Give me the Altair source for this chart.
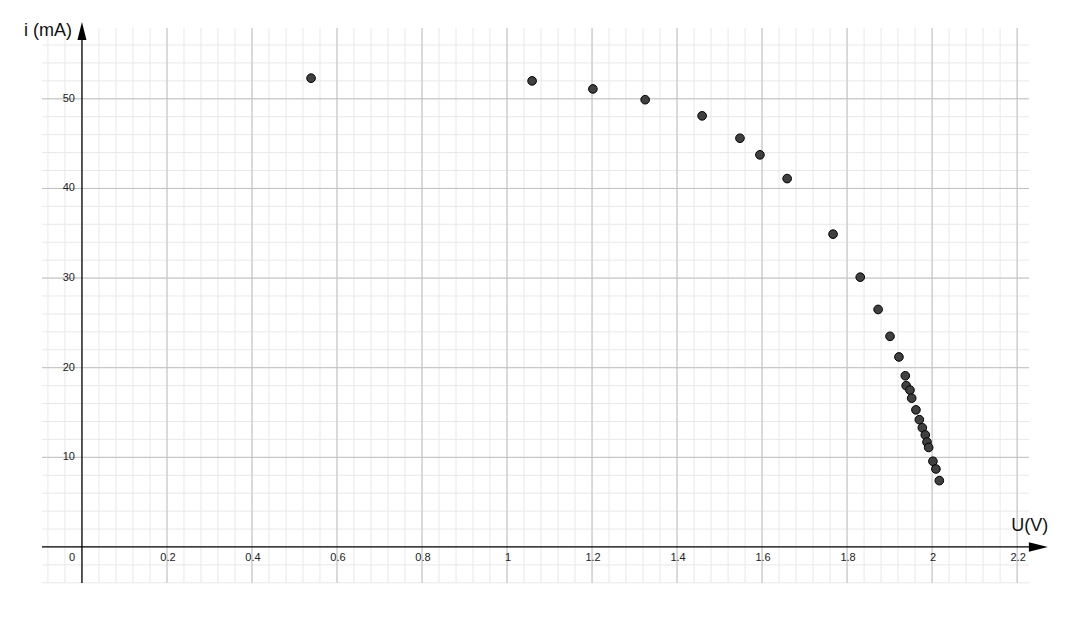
import altair as alt
import pandas as pd

# measured data (U in V, i in mA)
u_values = [0.539, 1.059, 1.202, 1.325, 1.459, 1.548, 1.595, 1.659, 1.767, 1.831,
            1.873, 1.901, 1.922, 1.937, 1.939, 1.948, 1.952, 1.962, 1.970, 1.977,
            1.984, 1.988, 1.992, 2.002, 2.009, 2.017]
i_values = [52.3, 52.0, 51.1, 49.9, 48.1, 45.6, 43.75, 41.1, 34.9, 30.1,
            26.5, 23.5, 21.2, 19.1, 18.0, 17.5, 16.6, 15.3, 14.2, 13.3,
            12.5, 11.7, 11.1, 9.56, 8.7, 7.4]

x_tick_values = [0.2, 0.4, 0.6, 0.8, 1, 1.2, 1.4, 1.6, 1.8, 2, 2.2]
x_tick_labels = ["0.2", "0.4", "0.6", "0.8", "1", "1.2", "1.4", "1.6", "1.8", "2", "2.2"]
y_tick_values = [10, 20, 30, 40, 50]
y_tick_labels = ["10", "20", "30", "40", "50"]

x_minor = [round(-0.08 + 0.04 * k, 2) for k in range(58)]
y_minor = [-4 + 2 * k for k in range(31)]

XDOM = [-0.094, 2.228]
YDOM = [-4.02, 57.9]

xs = alt.Scale(domain=XDOM, nice=False, zero=False)
ys = alt.Scale(domain=YDOM, nice=False, zero=False)

def X(field="x"):
    return alt.X(field, type="quantitative", scale=xs, axis=None)

def Y(field="y"):
    return alt.Y(field, type="quantitative", scale=ys, axis=None)

minor_x = alt.Chart(pd.DataFrame({"x": x_minor})).mark_rule(color="#e8e8e8", strokeWidth=1).encode(x=X())
minor_y = alt.Chart(pd.DataFrame({"y": y_minor})).mark_rule(color="#e8e8e8", strokeWidth=1).encode(y=Y())
major_x = alt.Chart(pd.DataFrame({"x": x_tick_values})).mark_rule(color="#c0c0c0", strokeWidth=1).encode(x=X())
major_y = alt.Chart(pd.DataFrame({"y": y_tick_values})).mark_rule(color="#c0c0c0", strokeWidth=1).encode(y=Y())

# axis lines
xaxis_line = alt.Chart(pd.DataFrame({"x": [XDOM[0]], "x2": [2.26], "y": [0]})).mark_rule(
    color="black", strokeWidth=1.3).encode(x=X(), x2="x2", y=Y())
yaxis_line = alt.Chart(pd.DataFrame({"x": [0], "y": [YDOM[0]], "y2": [57.0]})).mark_rule(
    color="black", strokeWidth=1.3).encode(x=X(), y=Y(), y2="y2")

x_arrow = alt.Chart(pd.DataFrame({"x": [2.250], "y": [0]})).mark_point(
    shape="M-1,-0.5L1,0L-1,0.5Z", size=361, filled=True, color="black", opacity=1
).encode(x=X(), y=Y())
y_arrow = alt.Chart(pd.DataFrame({"x": [0], "y": [57.57]})).mark_point(
    shape="M-0.5,1L0,-1L0.5,1Z", size=324, filled=True, color="black", opacity=1
).encode(x=X(), y=Y())

# tick labels
xlab = alt.Chart(pd.DataFrame({"x": x_tick_values, "t": x_tick_labels, "y": [0] * len(x_tick_values)})).mark_text(
    font="Liberation Sans", fontSize=11, color="#222222", dy=11, dx=1, baseline="middle", align="center"
).encode(x=X(), y=Y(), text="t:N")
zerolab = alt.Chart(pd.DataFrame({"x": [0], "y": [0], "t": ["0"]})).mark_text(
    font="Liberation Sans", fontSize=11, color="#222222", dy=11, dx=-10, baseline="middle", align="center"
).encode(x=X(), y=Y(), text="t:N")
ylab = alt.Chart(pd.DataFrame({"y": y_tick_values, "t": y_tick_labels, "x": [0] * len(y_tick_values)})).mark_text(
    font="Liberation Sans", fontSize=11, color="#222222", dx=-7, baseline="middle", align="right"
).encode(x=X(), y=Y(), text="t:N")

# axis titles
ytitle = alt.Chart(pd.DataFrame({"x": [0], "y": [57.57], "t": ["i (mA)"]})).mark_text(
    font="Liberation Sans", fontSize=18, color="#111111", dx=-10, baseline="middle", align="right"
).encode(x=X(), y=Y(), text="t:N")
xtitle = alt.Chart(pd.DataFrame({"x": [2.230], "y": [2.34], "t": ["U(V)"]})).mark_text(
    font="Liberation Sans", fontSize=18, color="#111111", baseline="middle", align="center"
).encode(x=X(), y=Y(), text="t:N")

points = alt.Chart(pd.DataFrame({"x": u_values, "y": i_values})).mark_point(
    shape="circle", size=75, filled=True, fill="#404040", stroke="black", strokeWidth=1, opacity=1
).encode(x=X(), y=Y())

chart = alt.layer(
    minor_x, minor_y, major_x, major_y, xaxis_line, yaxis_line, x_arrow, y_arrow,
    xlab, zerolab, ylab, ytitle, xtitle, points
).properties(
    width=987, height=555,
    padding={"left": 34, "top": 20, "right": 26, "bottom": 28},
    autosize="none", background="white"
).configure_view(stroke=None)

chart.save("out.html", embed_options={"renderer": "svg", "actions": False})
